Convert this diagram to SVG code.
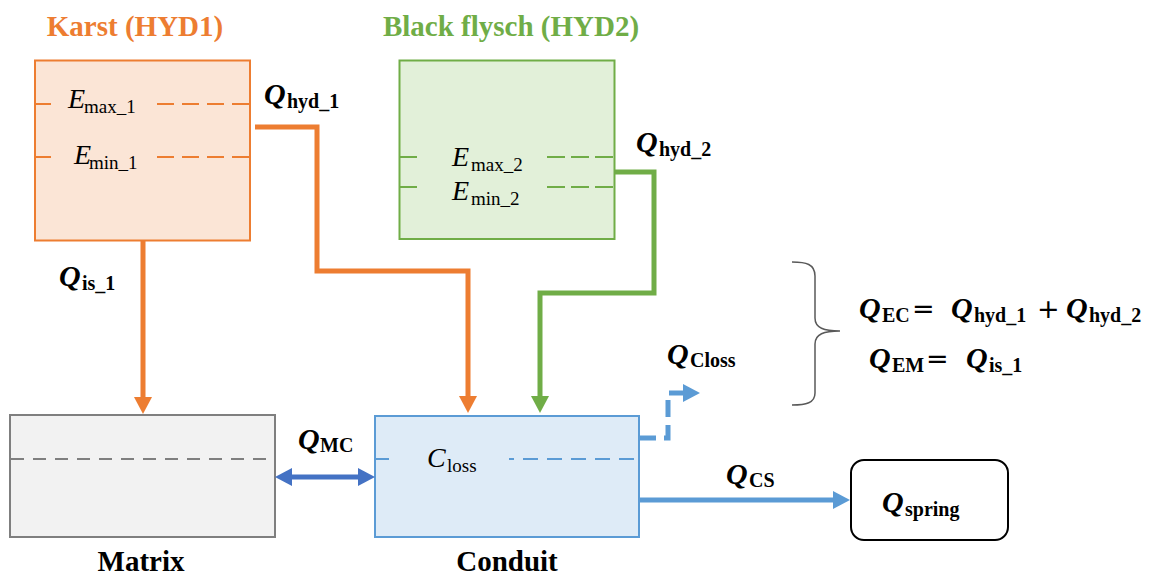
<svg xmlns="http://www.w3.org/2000/svg" width="1153" height="575" viewBox="0 0 1153 575">
<style>
.title{font-family:"Liberation Serif",serif;font-weight:bold;font-size:29px}
.lbl{font-family:"Liberation Serif",serif;font-weight:bold;font-size:29px;fill:#000}
.q{font-family:"Liberation Serif",serif;font-weight:bold;font-style:italic;font-size:30px;fill:#000}
.qs{font-family:"Liberation Serif",serif;font-weight:bold;font-size:20px;fill:#000}
.op{font-family:"DejaVu Sans",sans-serif;font-size:27px;fill:#000}
.e{font-family:"Liberation Serif",serif;font-style:italic;font-size:28px;fill:#000}
.es{font-family:"Liberation Serif",serif;font-size:19px;fill:#000}
.conn{fill:none;stroke-width:5}
</style>
<defs>
<marker id="aOr" markerUnits="userSpaceOnUse" orient="auto" overflow="visible" markerWidth="1" markerHeight="1" refX="0" refY="0"><path d="M0,-9 L17,0 L0,9 Z" fill="#ED7D31"/></marker>
<marker id="aGr" markerUnits="userSpaceOnUse" orient="auto" overflow="visible" markerWidth="1" markerHeight="1" refX="0" refY="0"><path d="M0,-9 L17,0 L0,9 Z" fill="#70AD47"/></marker>
<marker id="aBl" markerUnits="userSpaceOnUse" orient="auto" overflow="visible" markerWidth="1" markerHeight="1" refX="0" refY="0"><path d="M0,-9 L17,0 L0,9 Z" fill="#5B9BD5"/></marker>
<marker id="aDb" markerUnits="userSpaceOnUse" orient="auto-start-reverse" overflow="visible" markerWidth="1" markerHeight="1" refX="0" refY="0"><path d="M0,-9 L17,0 L0,9 Z" fill="#4472C4"/></marker>
</defs>
<rect width="1153" height="575" fill="#fff"/>

<g id="karst">
<text class="title" x="135" y="36" text-anchor="middle" fill="#ED7D31">Karst (HYD1)</text>
<rect x="35" y="60.5" width="215" height="180" fill="#FBE5D6" stroke="#ED7D31" stroke-width="2"/>
<g stroke="#ED7D31" stroke-width="2">
<line x1="35" y1="104" x2="51" y2="104"/>
<line x1="157" y1="104" x2="249" y2="104" stroke-dasharray="17 8"/>
<line x1="35" y1="157" x2="51" y2="157"/>
<line x1="157" y1="157" x2="249" y2="157" stroke-dasharray="17 8"/>
</g>
<text class="e" x="68" y="108">E</text><text class="es" x="84" y="113">max_1</text>
<text class="e" x="74" y="164">E</text><text class="es" x="89" y="169">min_1</text>
</g>

<g id="flysch">
<text class="title" x="511" y="36" text-anchor="middle" fill="#70AD47">Black flysch (HYD2)</text>
<rect x="399.5" y="60.5" width="215" height="178.5" fill="#E2F0D9" stroke="#70AD47" stroke-width="2"/>
<g stroke="#70AD47" stroke-width="2">
<line x1="399" y1="157" x2="417" y2="157"/>
<line x1="547" y1="157" x2="613" y2="157" stroke-dasharray="18 6"/>
<line x1="399" y1="187" x2="417" y2="187"/>
<line x1="547" y1="187" x2="613" y2="187" stroke-dasharray="18 6"/>
</g>
<text class="e" x="452" y="166">E</text><text class="es" x="471" y="171">max_2</text>
<text class="e" x="452" y="200">E</text><text class="es" x="471" y="205">min_2</text>
</g>

<g id="matrix">
<rect x="10" y="415" width="265" height="122" fill="#F2F2F2" stroke="#7F7F7F" stroke-width="2"/>
<line x1="11" y1="459" x2="273" y2="459" stroke="#7F7F7F" stroke-width="2" stroke-dasharray="13 9"/>
<text class="lbl" x="141" y="571" text-anchor="middle">Matrix</text>
</g>

<g id="conduit">
<rect x="375" y="416" width="264" height="121" fill="#DEEBF7" stroke="#5B9BD5" stroke-width="2"/>
<g stroke="#5B9BD5" stroke-width="2">
<line x1="376" y1="459" x2="389" y2="459"/>
<line x1="509" y1="459" x2="636" y2="459" stroke-dasharray="15 9" stroke-dashoffset="10"/>
</g>
<text class="e" x="427" y="467">C</text><text class="es" x="447" y="472">loss</text>
<text class="lbl" x="507" y="571" text-anchor="middle">Conduit</text>
</g>

<g id="spring">
<rect x="851" y="460" width="157" height="80" rx="13" fill="#fff" stroke="#000" stroke-width="2"/>
<text class="q" x="882" y="512">Q</text><text class="qs" x="905" y="516">spring</text>
</g>

<g id="connectors">
<path class="conn" stroke="#ED7D31" d="M143,241 V397" marker-end="url(#aOr)"/>
<path class="conn" stroke="#ED7D31" d="M255,127 H317 V271 H468 V396" marker-end="url(#aOr)"/>
<path class="conn" stroke="#70AD47" d="M615,172 H654 V293 H540 V396" marker-end="url(#aGr)"/>
<path class="conn" stroke="#4472C4" d="M292,477 H358" marker-start="url(#aDb)" marker-end="url(#aDb)"/>
<path class="conn" stroke="#5B9BD5" d="M639,500 H833" marker-end="url(#aBl)"/>
<path class="conn" stroke="#5B9BD5" stroke-dasharray="17 8" d="M639,438 H668 V393 H683" marker-end="url(#aBl)"/>
</g>

<g id="labels">
<text class="q" x="264" y="104">Q</text><text class="qs" x="287" y="108">hyd_1</text>
<text class="q" x="636" y="152">Q</text><text class="qs" x="659" y="156">hyd_2</text>
<text class="q" x="59" y="286">Q</text><text class="qs" x="82" y="290">is_1</text>
<text class="q" x="298" y="449">Q</text><text class="qs" x="320" y="452">MC</text>
<text class="q" x="667" y="364">Q</text><text class="qs" x="690" y="367">Closs</text>
<text class="q" x="726" y="484">Q</text><text class="qs" x="749" y="487">CS</text>
</g>

<g id="equations">
<path d="M792,262 C806,262 815,264 815,276 V318 C815,328 824,331 840,331 C824,331 815,334 815,344 V393 C815,403 806,405 792,405" fill="none" stroke="#595959" stroke-width="1.5"/>
<text class="q" x="859" y="318">Q</text><text class="qs" x="882" y="322">EC</text>
<text class="op" x="912" y="318">=</text>
<text class="q" x="951" y="318">Q</text><text class="qs" x="974" y="322">hyd_1</text>
<text class="op" x="1037" y="318">+</text>
<text class="q" x="1066" y="318">Q</text><text class="qs" x="1089" y="322">hyd_2</text>
<text class="q" x="869" y="368">Q</text><text class="qs" x="892" y="372">EM</text>
<text class="op" x="926" y="368">=</text>
<text class="q" x="966" y="368">Q</text><text class="qs" x="989" y="372">is_1</text>
</g>
</svg>
